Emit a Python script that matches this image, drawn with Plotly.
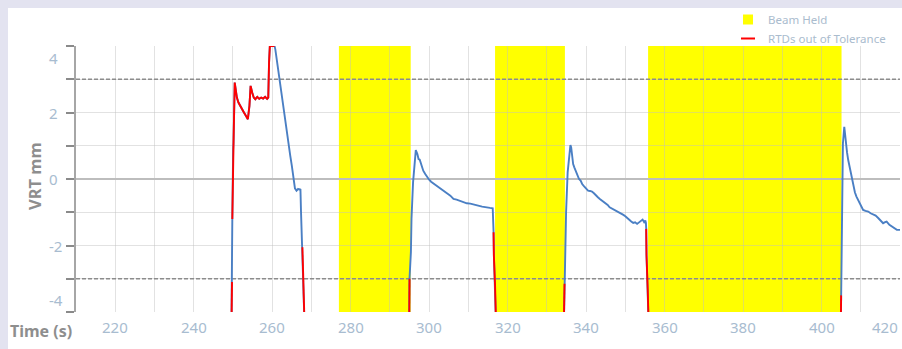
import plotly.graph_objects as go

# ---------------- data ----------------
time_s = [
    249.6, 249.72, 249.76, 249.80, 249.84, 250.05, 250.15, 250.45, 250.7, 251.0,
    251.4, 251.8, 252.3, 252.8, 253.3, 253.8, 254.2, 254.5, 254.9, 255.3,
    255.7, 256.2, 256.7, 257.2, 257.7, 258.2, 258.7, 259.0, 259.2, 259.4,
    260.0, 260.6, 260.8, 261.5, 262.2, 262.8, 263.5, 264.1, 264.6, 265.0,
    265.4, 265.8, 266.2, 266.6, 267.0, 267.2, 267.35, 267.5, 267.7, 267.75,
    267.9, 268.1, 268.3, 268.4,
    294.9, 295.0, 295.35, 295.5, 295.9, 296.3, 296.6, 297.0, 297.3, 297.6,
    298.0, 298.5, 299.0, 299.5, 300.0, 300.5, 301.0, 301.5, 302.0, 302.5,
    303.0, 303.6, 304.2, 304.8, 305.4, 306.2, 307.0, 307.8, 308.6, 309.6,
    310.5, 311.5, 312.5, 313.5, 314.5, 315.5, 316.2, 316.35, 316.42, 316.5,
    316.8, 317.1, 317.2,
    334.3, 334.5, 334.7, 334.9, 335.3, 335.7, 336.0, 336.2, 336.4, 336.7,
    337.0, 337.4, 337.8, 338.2, 338.6, 339.0, 339.5, 340.0, 340.5, 341.0,
    341.5, 342.0, 342.5, 343.0, 343.5, 344.0, 344.5, 345.0, 345.5, 346.0,
    346.5, 347.0, 347.5, 348.0, 348.5, 349.0, 349.5, 350.0, 350.5, 351.0,
    351.5, 352.0, 352.5, 353.0, 353.5, 354.0, 354.4, 354.8, 355.1, 355.25,
    355.32, 355.4, 355.7, 356.0, 356.1,
    404.9, 405.0, 405.2, 405.35, 405.45, 405.8, 406.0, 406.2, 406.5, 406.8,
    407.1, 407.4, 407.7, 408.1, 408.5, 408.9, 409.3, 409.8, 410.2, 410.6,
    411.2, 411.9, 412.5, 413.2, 413.8, 414.5, 415.1, 415.7, 416.2, 416.6,
    417.3, 417.9, 418.6, 419.2, 420.0,
]
vrt_mm = [
    -4.6, -3.6, -3.1, -2.2, -1.2, 0.9, 1.1, 2.9, 2.7, 2.45,
    2.3, 2.2, 2.1, 2.0, 1.9, 1.8, 2.2, 2.8, 2.6, 2.45,
    2.4, 2.47, 2.41, 2.45, 2.42, 2.47, 2.41, 2.45, 3.5, 4.0,
    4.0, 4.0, 3.9, 3.3, 2.7, 2.1, 1.65, 1.15, 0.7, 0.4,
    0.0, -0.28, -0.35, -0.3, -0.32, -0.3, -1.0, -1.6, -2.05, -2.3,
    -3.0, -3.8, -4.6, None,
    -4.6, -3.0, -2.2, -1.2, -0.1, 0.57, 0.87, 0.75, 0.6, 0.58,
    0.4, 0.25, 0.15, 0.05, -0.02, -0.08, -0.12, -0.17, -0.22, -0.25,
    -0.28, -0.33, -0.4, -0.45, -0.5, -0.6, -0.62, -0.66, -0.7, -0.73,
    -0.74, -0.78, -0.8, -0.83, -0.84, -0.87, -0.88, -1.2, -1.6, -2.3,
    -3.2, -4.6, None,
    -4.6, -3.15, -2.2, -1.0, 0.2, 0.8, 1.02, 0.95, 0.7, 0.45,
    0.35, 0.22, 0.1, 0.0, -0.05, -0.15, -0.22, -0.3, -0.35, -0.36,
    -0.38, -0.43, -0.5, -0.55, -0.6, -0.64, -0.68, -0.72, -0.78, -0.85,
    -0.88, -0.93, -0.95, -0.98, -1.02, -1.05, -1.08, -1.12, -1.18, -1.22,
    -1.28, -1.32, -1.3, -1.35, -1.3, -1.25, -1.22, -1.3, -1.25, -1.32,
    -1.5, -2.3, -3.3, -4.6, None,
    -4.6, -3.5, -2.5, -1.0, 1.07, 1.57, 1.3, 0.97, 0.8, 0.57,
    0.4, 0.17, 0.02, -0.23, -0.4, -0.53, -0.62, -0.73, -0.85, -0.93,
    -0.96, -0.98, -1.03, -1.08, -1.1, -1.18, -1.25, -1.33, -1.3, -1.28,
    -1.38, -1.43, -1.5, -1.53, -1.53,
]
rtd_out = [
    1, 1, 1, 0, 1, 1, 1, 1, 1, 1,
    1, 1, 1, 1, 1, 1, 1, 1, 1, 1,
    1, 1, 1, 1, 1, 1, 1, 1, 1, 1,
    1, 1, 0, 0, 0, 0, 0, 0, 0, 0,
    0, 0, 0, 0, 0, 0, 0, 0, 1, 1,
    1, 1, 1, 0,
    1, 1, 0, 0, 0, 0, 0, 0, 0, 0,
    0, 0, 0, 0, 0, 0, 0, 0, 0, 0,
    0, 0, 0, 0, 0, 0, 0, 0, 0, 0,
    0, 0, 0, 0, 0, 0, 0, 0, 1, 1,
    1, 1, 0,
    1, 1, 0, 0, 0, 0, 0, 0, 0, 0,
    0, 0, 0, 0, 0, 0, 0, 0, 0, 0,
    0, 0, 0, 0, 0, 0, 0, 0, 0, 0,
    0, 0, 0, 0, 0, 0, 0, 0, 0, 0,
    0, 0, 0, 0, 0, 0, 0, 0, 0, 0,
    1, 1, 1, 1, 0,
    1, 1, 0, 0, 0, 0, 0, 0, 0, 0,
    0, 0, 0, 0, 0, 0, 0, 0, 0, 0,
    0, 0, 0, 0, 0, 0, 0, 0, 0, 0,
    0, 0, 0, 0, 0,
]
beam_held_start = [277.0, 316.8, 355.8]
beam_held_end = [295.3, 334.6, 405.1]
tolerance_limits = [3, -3]
x_tick_vals = [220, 240, 260, 280, 300, 320, 340, 360, 380, 400, 420]
y_tick_vals = [4, 2, 0, -2, -4]

# ---------------- layout constants ----------------
W, H = 902, 349
ML, MR, MT, MB = 76, 2, 46, 37
X_RANGE = [210, 420]
Y_RANGE = [-4, 4]
PW, PH = W - ML - MR, H - MT - MB
FONT = "Noto Sans"
TICK_COLOR = "#a8bcd0"
TITLE_COLOR = "#8e8e8e"


def px_x(px):
    return (px - ML) / PW


def px_y(py):
    return (H - MB - py) / PH


red_y = [v if f else None for v, f in zip(vrt_mm, rtd_out)]

fig = go.Figure()
fig.add_trace(go.Scatter(
    x=time_s, y=vrt_mm, mode="lines", connectgaps=False,
    line=dict(color="#4a7fc4", width=1.9), showlegend=False, hoverinfo="x+y",
))
fig.add_trace(go.Scatter(
    x=time_s, y=red_y, mode="lines", connectgaps=False,
    line=dict(color="#ff0000", width=1.9), showlegend=False, hoverinfo="x+y",
))
fig.add_trace(go.Scatter(
    x=[None], y=[None], mode="markers", name="Beam Held",
    marker=dict(symbol="square", size=10, color="#ffff00"),
))
fig.add_trace(go.Scatter(
    x=[None], y=[None], mode="markers", name="RTDs out of Tolerance",
    marker=dict(symbol="line-ew", size=10, line=dict(color="#ff0000", width=2)),
))

shapes = [dict(
    type="rect", xref="paper", yref="paper", layer="below",
    x0=px_x(8), x1=px_x(W + 5), y0=px_y(H + 5), y1=px_y(8),
    fillcolor="white", line=dict(width=0),
)]
for s, e in zip(beam_held_start, beam_held_end):
    shapes.append(dict(
        type="rect", xref="x", yref="y", layer="below",
        x0=s, x1=e, y0=Y_RANGE[0], y1=Y_RANGE[1],
        fillcolor="#ffff00", line=dict(width=0),
    ))
for lim in tolerance_limits:
    shapes.append(dict(
        type="line", xref="x", yref="y", layer="between",
        x0=X_RANGE[0], x1=X_RANGE[1], y0=lim, y1=lim,
        line=dict(color="#8c8c8c", width=1.5, dash="4px,2px"),
    ))

annotations = []
for v in y_tick_vals:
    anchor = "top" if v == Y_RANGE[1] else ("bottom" if v == Y_RANGE[0] else "middle")
    annotations.append(dict(
        text=str(v), xref="paper", yref="y", x=px_x(47), y=v,
        xanchor="left", yanchor=anchor, showarrow=False,
        font=dict(family=FONT, size=15, color=TICK_COLOR),
    ))
for v in x_tick_vals:
    annotations.append(dict(
        text=str(v), xref="x", yref="paper", x=v, y=px_y(327),
        xanchor="right" if v == X_RANGE[1] else "center", yanchor="middle",
        showarrow=False, font=dict(family=FONT, size=15, color=TICK_COLOR),
    ))
annotations.append(dict(
    text="<b>Time (s)</b>", xref="paper", yref="paper", x=px_x(8), y=px_y(331),
    xanchor="left", yanchor="middle", showarrow=False,
    font=dict(family=FONT, size=16, color=TITLE_COLOR),
))
annotations.append(dict(
    text="<b>VRT mm</b>", xref="paper", yref="paper", x=px_x(34), y=px_y(176),
    xanchor="center", yanchor="middle", textangle=-90, showarrow=False,
    font=dict(family=FONT, size=16.5, color=TITLE_COLOR),
))

fig.update_layout(
    width=W, height=H,
    margin=dict(l=ML, r=MR, t=MT, b=MB, pad=0),
    paper_bgcolor="#e3e3f0",
    plot_bgcolor="rgba(0,0,0,0)",
    font=dict(family=FONT),
    shapes=shapes,
    annotations=annotations,
    showlegend=True,
    legend=dict(
        x=px_x(728), y=px_y(5), xanchor="left", yanchor="top",
        bgcolor="rgba(0,0,0,0)", borderwidth=0, tracegroupgap=0,
        font=dict(family=FONT, size=11.5, color="#aabcce"),
        itemclick=False, itemdoubleclick=False,
    ),
    xaxis=dict(
        range=X_RANGE, dtick=10, tick0=0, showticklabels=False, ticks="",
        showgrid=True, gridcolor="rgba(190,190,190,0.45)", gridwidth=1,
        zeroline=False, showline=False, fixedrange=True,
    ),
    yaxis=dict(
        range=Y_RANGE, dtick=1, tick0=0, showticklabels=False,
        ticks="outside", ticklen=8, tickwidth=1.5, tickcolor="#8a8a8a",
        showgrid=True, gridcolor="rgba(190,190,190,0.45)", gridwidth=1,
        zeroline=True, zerolinecolor="#bdbdbd", zerolinewidth=1.5,
        showline=True, linecolor="#a6a6a6", linewidth=1.5, fixedrange=True,
    ),
)

fig.write_html(
    "out.html", include_plotlyjs=True, config={"displayModeBar": False},
    post_script="document.body.style.margin='0';document.body.style.background='#e3e3f0';",
)
